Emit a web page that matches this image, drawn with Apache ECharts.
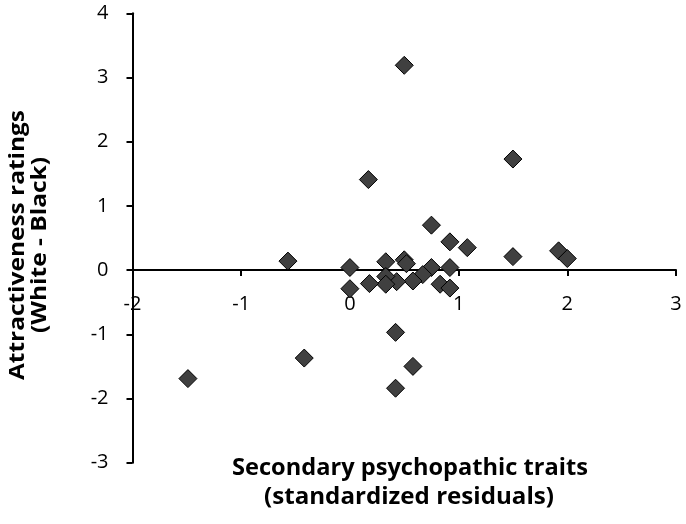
<!DOCTYPE html>
<html>
<head>
<meta charset="utf-8">
<script src="https://cdn.jsdelivr.net/npm/echarts@6/dist/echarts.min.js"></script>
<style>
html,body{margin:0;padding:0;background:#fff;}
#chart{width:686px;height:524px;}
</style>
</head>
<body>
<div id="chart"></div>
<script>
// Data
var xValues = [0.50, 0.17, 1.50, 0.75, 0.92, 1.08, -0.57, 0.00, 0.33, 0.50,
               0.52, 1.50, 1.92, 2.00, 0.75, 0.92, 0.67, 0.58, 0.43, 0.33,
               0.33, 0.18, 0.00, 0.83, 0.92, 0.42, -0.42, -1.49, 0.58, 0.42];
var yValues = [3.19, 1.41, 1.73, 0.70, 0.44, 0.35, 0.14, 0.04, 0.13, 0.16,
               0.10, 0.21, 0.30, 0.18, 0.04, 0.04, -0.07, -0.17, -0.18, -0.10,
               -0.22, -0.21, -0.29, -0.22, -0.28, -0.97, -1.37, -1.69, -1.50, -1.84];
var xTitleLines = ['Secondary psychopathic traits', '(standardized residuals)'];
var yTitleLines = ['Attractiveness ratings', '(White - Black)'];

var FONT = '"Open Sans", sans-serif';
var points = xValues.map(function (x, i) { return [x, yValues[i]]; });

var GRID_TOP = 13.3, GRID_BOTTOM = 61.3, H = 524;
var YMIN = -3, YMAX = 4;
var plotH = H - GRID_TOP - GRID_BOTTOM;
// shift the x axis up so it sits at y = 0
var xAxisOffset = -plotH * (0 - YMIN) / (YMAX - YMIN);

// fit title text widths to the reference's text lengths
var mctx = document.createElement('canvas').getContext('2d');
function fitScale(text, font, target) {
  mctx.font = font;
  var w = mctx.measureText(text).width;
  return w > 0 ? target / w : 1;
}
var XT_FONT = 'bold 23px ' + FONT;
var YT_FONT = 'bold 21px ' + FONT;
var xs1 = fitScale(xTitleLines[0], XT_FONT, 356);
var xs2 = fitScale(xTitleLines[1], XT_FONT, 290);
var ys1 = fitScale(yTitleLines[0], YT_FONT, 270);
var ys2 = fitScale(yTitleLines[1], YT_FONT, 176);

var chart = echarts.init(document.getElementById('chart'), null, {renderer: 'canvas'});
chart.setOption({
  animation: false,
  backgroundColor: '#ffffff',
  grid: {left: 132.5, right: 10, top: GRID_TOP, bottom: GRID_BOTTOM, containLabel: false},
  xAxis: {
    type: 'value', min: -2, max: 3, interval: 1,
    offset: xAxisOffset,
    axisLine: {onZero: false, lineStyle: {color: '#000', width: 2}},
    axisTick: {show: true, inside: false, length: 6, lineStyle: {color: '#000', width: 2}},
    axisLabel: {color: '#000', fontFamily: FONT, fontSize: 20, margin: 24},
    splitLine: {show: false}
  },
  yAxis: {
    type: 'value', min: YMIN, max: YMAX, interval: 1,
    axisLine: {show: true, onZero: false, lineStyle: {color: '#000', width: 2}},
    axisTick: {show: true, inside: false, length: 6, lineStyle: {color: '#000', width: 2}},
    axisLabel: {color: '#000', fontFamily: FONT, fontSize: 20, margin: 24},
    splitLine: {show: false}
  },
  series: [{
    type: 'scatter',
    data: points,
    symbol: 'diamond',
    symbolSize: 18,
    z: 5,
    itemStyle: {color: '#404040', borderColor: '#000', borderWidth: 1, opacity: 1}
  }],
  graphic: [
    {type: 'text', x: 410, y: 468, scaleX: xs1, style: {text: xTitleLines[0], font: XT_FONT, fill: '#000', textAlign: 'center', textVerticalAlign: 'middle'}},
    {type: 'text', x: 409, y: 497, scaleX: xs2, style: {text: xTitleLines[1], font: XT_FONT, fill: '#000', textAlign: 'center', textVerticalAlign: 'middle'}},
    {type: 'text', x: 18.5, y: 245, rotation: Math.PI / 2, scaleX: ys1, style: {text: yTitleLines[0], font: YT_FONT, fill: '#000', textAlign: 'center', textVerticalAlign: 'middle'}},
    {type: 'text', x: 40.5, y: 245, rotation: Math.PI / 2, scaleX: ys2, style: {text: yTitleLines[1], font: YT_FONT, fill: '#000', textAlign: 'center', textVerticalAlign: 'middle'}}
  ]
});
</script>
</body>
</html>
